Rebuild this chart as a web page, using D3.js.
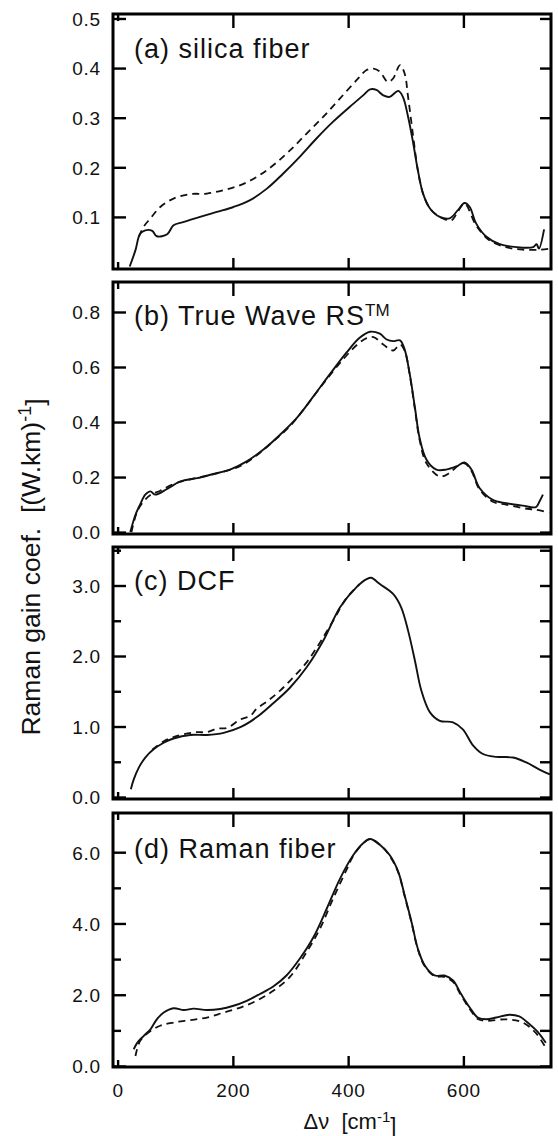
<!DOCTYPE html>
<html><head><meta charset="utf-8">
<script src="https://cdn.jsdelivr.net/npm/d3@7"></script>
<style>
html,body{margin:0;padding:0;background:#fff;}
svg{display:block;font-family:"Liberation Sans",Arial,Helvetica,sans-serif;}
</style></head>
<body>
<svg id="chart" width="558" height="1136"></svg>
<script>
// ---------- DATA ----------
const panelLabels = ["(a) silica fiber", "(b) True Wave RS", "(c) DCF", "(d) Raman fiber"];
const xTickValues = [200, 400, 600];
const xTickLabels = ["0", "200", "400", "600"];

const aSolidX = [21,31,39,48,60,68,86,97,115,143,172,201,230,259,287,316,345,374,403,426,438,449,461,472,487,495,504,513,521,530,542,559,576,590,602,611,622,640,663,692,721,727,731,740];
const aSolidY = [0.0,0.033,0.066,0.073,0.072,0.061,0.065,0.083,0.090,0.100,0.110,0.120,0.134,0.157,0.187,0.221,0.258,0.292,0.322,0.345,0.357,0.356,0.345,0.342,0.354,0.342,0.302,0.248,0.194,0.147,0.117,0.100,0.097,0.113,0.128,0.120,0.087,0.060,0.045,0.039,0.039,0.045,0.036,0.075];
const aDashX = [37,45,57,74,97,126,155,184,213,242,270,299,328,357,386,415,432,444,455,469,478,490,498,504,513,521,530,542,559,579,590,602,622,645,674,703,732,749];
const aDashY = [0.060,0.080,0.097,0.120,0.137,0.146,0.147,0.154,0.164,0.181,0.204,0.234,0.268,0.302,0.339,0.376,0.396,0.399,0.393,0.372,0.379,0.406,0.389,0.342,0.261,0.194,0.147,0.117,0.100,0.093,0.110,0.127,0.083,0.053,0.039,0.034,0.034,0.036];

const bSolidX = [22,31,39,48,57,65,86,109,138,166,195,224,253,282,311,340,368,397,420,438,455,467,478,490,498,507,516,524,536,553,570,588,602,614,628,651,674,703,726,732,738];
const bSolidY = [0.0,0.063,0.100,0.136,0.148,0.136,0.157,0.184,0.196,0.211,0.227,0.257,0.300,0.354,0.415,0.494,0.573,0.652,0.706,0.728,0.721,0.700,0.694,0.697,0.664,0.573,0.451,0.342,0.263,0.227,0.227,0.239,0.253,0.227,0.160,0.117,0.105,0.096,0.091,0.111,0.136];
const bDashX = [24,34,45,57,74,97,126,155,184,213,242,270,299,328,357,386,415,432,444,461,478,490,498,507,516,524,536,559,576,590,602,614,628,651,674,703,726,749];
const bDashY = [0.0,0.075,0.111,0.135,0.150,0.175,0.192,0.205,0.220,0.240,0.280,0.330,0.385,0.460,0.540,0.615,0.680,0.705,0.709,0.682,0.660,0.682,0.660,0.570,0.445,0.335,0.250,0.202,0.215,0.240,0.250,0.222,0.155,0.110,0.100,0.087,0.081,0.071];

const cSolidX = [23,28,37,48,63,80,97,126,155,184,213,241,270,299,328,357,386,415,432,440,455,478,492,504,516,527,542,559,582,599,617,634,657,686,709,732,750];
const cSolidY = [0.11,0.25,0.42,0.56,0.68,0.77,0.83,0.88,0.88,0.91,0.99,1.13,1.33,1.55,1.84,2.22,2.69,2.98,3.09,3.11,3.02,2.88,2.69,2.36,1.93,1.51,1.20,1.08,1.06,0.96,0.73,0.61,0.57,0.56,0.49,0.39,0.32];
const cDashX = [60,80,97,115,138,155,172,190,213,230,241,260,282,305,328,351,374,397,420];
const cDashY = [0.67,0.79,0.85,0.89,0.92,0.92,0.97,0.98,1.10,1.15,1.25,1.36,1.51,1.70,1.91,2.19,2.50,2.82,3.02];

const dSolidX = [28,34,45,57,68,80,97,115,132,155,178,201,224,247,270,293,316,340,363,386,409,426,438,455,472,487,498,510,521,533,550,567,582,596,611,625,640,657,680,697,715,729,743];
const dSolidY = [0.47,0.65,0.84,1.03,1.31,1.50,1.62,1.57,1.61,1.57,1.60,1.69,1.83,2.02,2.23,2.54,3.01,3.62,4.42,5.26,5.92,6.25,6.37,6.21,5.92,5.45,4.79,4.04,3.29,2.82,2.54,2.54,2.40,2.02,1.64,1.36,1.31,1.36,1.44,1.39,1.17,0.96,0.65];
const dDashX = [31,39,57,74,97,126,155,184,213,241,270,299,328,351,374,397,409,426,438,455,472,487,498,510,521,533,550,567,582,596,611,625,640,674,703,726,743];
const dDashY = [0.28,0.70,0.98,1.13,1.22,1.29,1.36,1.50,1.64,1.83,2.11,2.50,3.20,3.85,4.70,5.50,5.90,6.25,6.37,6.21,5.90,5.43,4.77,4.02,3.27,2.80,2.52,2.50,2.36,1.98,1.60,1.32,1.27,1.31,1.22,0.92,0.51];

const aYTicks = [0.1,0.2,0.3,0.4,0.5];
const bYTicks = [0.0,0.2,0.4,0.6,0.8];
const cYTicks = [0,1,2,3];
const cYMinor = [0.5,1.5,2.5,3.5];
const dYTicks = [0,2,4,6];
const dYMinor = [1,3,5];

// ---------- LAYOUT ----------
const svg = d3.select("#chart");
const L = 113, R = 551;
const x = d3.scaleLinear().domain([-8, 752]).range([L, R]);
const zip = (xs, ys) => xs.map((v, i) => [v, ys[i]]);

const panels = [
  {top:14,  bottom:269,  dom:[-0.005,0.509], major:aYTicks, minor:[], solid:zip(aSolidX,aSolidY), dash:zip(aDashX,aDashY), base:58},
  {top:282, bottom:534,  dom:[-0.007,0.909], major:bYTicks, minor:[], solid:zip(bSolidX,bSolidY), dash:zip(bDashX,bDashY), base:325, tm:true},
  {top:547, bottom:799,  dom:[-0.028,3.546], major:cYTicks, minor:cYMinor, solid:zip(cSolidX,cSolidY), dash:zip(cDashX,cDashY), base:590},
  {top:813, bottom:1067, dom:[-0.028,7.10],  major:dYTicks, minor:dYMinor, solid:zip(dSolidX,dSolidY), dash:zip(dDashX,dDashY), base:858}
];

const fmt = d3.format(".1f");

panels.forEach((p, i) => {
  const y = d3.scaleLinear().domain(p.dom).range([p.bottom, p.top]);
  const g = svg.append("g");
  const clipId = "clip" + i;
  svg.append("clipPath").attr("id", clipId).append("rect")
    .attr("x", L).attr("y", p.top).attr("width", R - L).attr("height", p.bottom - p.top);

  const la = g.append("g").attr("transform", `translate(${L},0)`)
    .call(d3.axisLeft(y).tickValues(p.major).tickSize(-13).tickPadding(12).tickFormat(fmt));
  g.append("g").attr("transform", `translate(${L},0)`)
    .call(d3.axisLeft(y).tickValues(p.minor).tickSize(-8).tickFormat(""));
  g.append("g").attr("transform", `translate(${R},0)`)
    .call(d3.axisRight(y).tickValues(p.major.concat(p.minor)).tickSize(-11).tickFormat(""));
  g.append("g").attr("transform", `translate(0,${p.top})`)
    .call(d3.axisTop(x).tickValues(xTickValues).tickSize(-14).tickFormat(""));
  g.append("g").attr("transform", `translate(0,${p.top})`)
    .call(d3.axisTop(x).tickValues([0]).tickSize(-7).tickFormat(""));
  g.append("g").attr("transform", `translate(0,${p.bottom})`)
    .call(d3.axisBottom(x).tickValues(xTickValues).tickSize(-11).tickFormat(""));
  g.append("g").attr("transform", `translate(0,${p.bottom})`)
    .call(d3.axisBottom(x).tickValues([0]).tickSize(-7).tickFormat(""));

  g.selectAll(".domain").remove();
  g.selectAll(".tick line").attr("stroke", "#000").attr("stroke-width", 2.4);
  la.selectAll("text").attr("fill", "#111").style("font-size", "19px").style("letter-spacing", "0.8px")
    .attr("dy", "0.36em");

  const line = d3.line().x(d => x(d[0])).y(d => y(d[1])).curve(d3.curveCatmullRom.alpha(0.5));
  g.append("path").datum(p.dash).attr("clip-path", `url(#${clipId})`)
    .attr("d", line).attr("fill", "none").attr("stroke", "#111")
    .attr("stroke-width", 1.8).attr("stroke-dasharray", "7,5");
  g.append("path").datum(p.solid).attr("clip-path", `url(#${clipId})`)
    .attr("d", line).attr("fill", "none").attr("stroke", "#111").attr("stroke-width", 1.9);

  g.append("rect").attr("x", L).attr("y", p.top).attr("width", R - L).attr("height", p.bottom - p.top)
    .attr("fill", "none").attr("stroke", "#000").attr("stroke-width", 3);

  const t = g.append("text").attr("x", 134).attr("y", p.base)
    .style("font-size", "27px").style("letter-spacing", "1px").attr("fill", "#111")
    .text(panelLabels[i]);
  if (p.tm) t.append("tspan").attr("dy", "-0.55em").style("font-size", "17px").style("letter-spacing", "0px").text("TM");

  if (i === panels.length - 1) {
    const bl = svg.append("g").attr("transform", `translate(0,${p.bottom})`)
      .call(d3.axisBottom(x).tickValues([0].concat(xTickValues)).tickSize(0).tickPadding(17)
        .tickFormat((d, j) => xTickLabels[j]));
    bl.select(".domain").remove();
    bl.selectAll("text").attr("fill", "#111").style("font-size", "19px").style("letter-spacing", "0.8px");
  }
});

// axis titles
const yt = svg.append("text").attr("transform", "translate(40,567) rotate(-90)")
  .attr("text-anchor", "middle").style("font-size", "26.5px").attr("fill", "#111");
yt.append("tspan").text("Raman gain coef.\u00a0\u00a0[(W.km)");
yt.append("tspan").attr("dy", "-0.5em").style("font-size", "18px").text("-1");
yt.append("tspan").attr("dy", "0.5em").text("]");

const xt = svg.append("text").attr("x", 350).attr("y", 1129)
  .attr("text-anchor", "middle").style("font-size", "22px").attr("fill", "#111");
xt.append("tspan").text("\u0394\u03bd\u00a0\u00a0[cm");
xt.append("tspan").attr("dy", "-0.5em").style("font-size", "15px").text("-1");
xt.append("tspan").attr("dy", "0.5em").text("]");
</script>
</body></html>
